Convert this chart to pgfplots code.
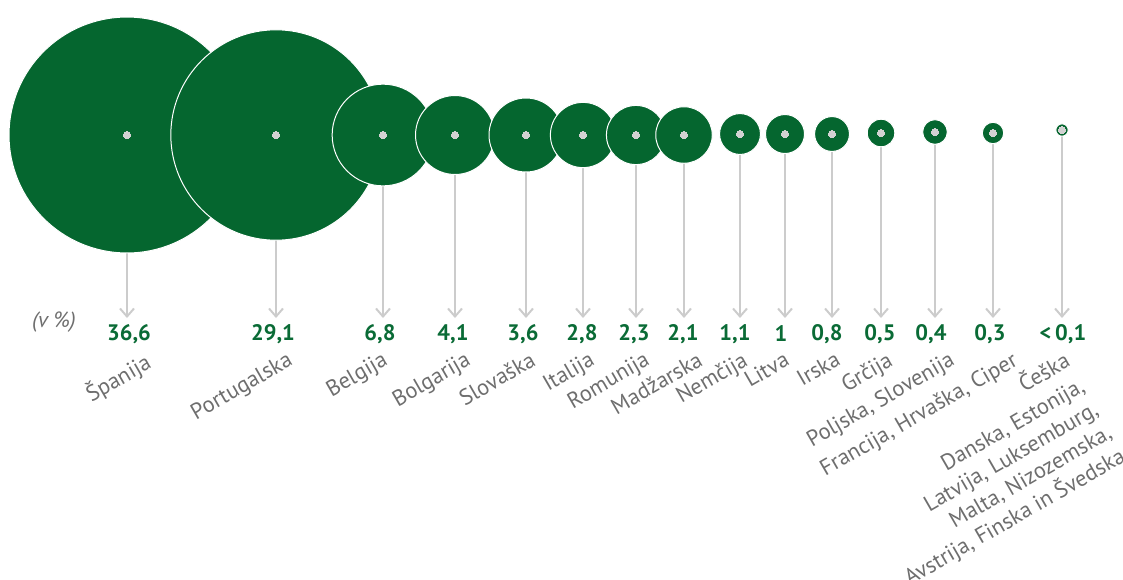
\documentclass[border=0pt]{standalone}
\usepackage{pgfplots}
\pgfplotsset{compat=1.18}
\usepackage{pgfplotstable}
\usepackage{fontspec}
\setmainfont{PT Sans}
\usetikzlibrary{arrows.meta}
\definecolor{bubble}{HTML}{05662F}
\definecolor{valgreen}{HTML}{0A6B36}
\definecolor{labgray}{HTML}{6E6E6E}
\definecolor{linegray}{HTML}{CCCCCC}
\definecolor{dotgray}{HTML}{D2D2D2}
\pgfplotstableread{
x y v dv
127 135 36.6 183
276 135 29.1 183
383 135 6.8 183
455 135 4.1 183
526 135 3.6 183
583 135 2.8 183
636 135 2.3 183
684 135 2.1 183
740 134 1.1 184
785 134 1.0 184
832 134 0.8 184
881 133 0.5 185
935 132 0.4 186
993 133 0.3 185
1062 130 0.1 188
}\bubbles
\newcommand{\lastlabel}{Češka\\[1pt]Danska, Estonija,\\Latvija, Luksemburg,\\Malta, Nizozemska,\\Avstrija, Finska in Švedska}
\begin{document}
\begin{tikzpicture}
\begin{axis}[
  width=561.5pt, height=289.5pt, scale only axis,
  hide axis, clip=false,
  xmin=0, xmax=1123, ymin=0, ymax=579, y dir=reverse,
]
% bubbles
\addplot[scatter, only marks, mark=*,
  visualization depends on={\thisrow{v} \as \val},
  scatter/@pre marker code/.code={%
    \pgfmathsetmacro\rr{9.75*sqrt(\val)}%
    \scope[mark size=\rr pt, fill=bubble, draw=white, line width=0.5pt]},
  scatter/@post marker code/.code={\endscope}]
  table[x=x, y=y] {\bubbles};
% connector arrows
\addplot[mark=none, draw=linegray, line width=1pt,
  quiver={u=0, v=\thisrow{dv}},
  -{Straight Barb[length=4pt, width=7pt, line width=1pt]}]
  table[x=x, y=y] {\bubbles};
% centre dots
\addplot[color=dotgray, only marks, mark=*, mark size=1.8pt,
  mark options={fill=dotgray, draw=dotgray, line width=0pt}]
  table[x=x, y=y] {\bubbles};
% value labels
\addplot[only marks, mark=none, nodes near coords, point meta=explicit symbolic,
  nodes near coords style={font=\fontsize{11.2}{13}\selectfont\bfseries, text=valgreen, anchor=center, inner sep=0pt}]
  coordinates {
  (129,334) [36,6] (273,334) [29,1] (380,334) [6,8] (453,334) [4,1]
  (523,334) [3,6] (582,334) [2,8] (634,334) [2,3] (683,334) [2,1]
  (735,334) [1,1] (781,334) [1] (827,334) [0,8] (880,334) [0,5]
  (931,334) [0,4] (990,334) [0,3] (1063,334) [<\,0,1]
  };
% category labels
\addplot[only marks, mark=none, nodes near coords, point meta=explicit symbolic,
  nodes near coords style={font=\fontsize{11.2}{13.5}\selectfont, text=labgray, rotate=30, anchor=north east, inner sep=0pt, align=right}]
  coordinates {
  (143,350) [Španija] (286,350) [Portugalska] (381,350) [Belgija]
  (464,350) [Bolgarija] (529,350) [Slovaška] (588,350) [Italija]
  (643,350) [Romunija] (696,350) [Madžarska] (741,350) [Nemčija]
  (783,350) [Litva] (834,350) [Irska] (886,350) [Grčija]
  (948,350) [Poljska, Slovenija] (1011,350) [Francija, Hrvaška, Ciper]
  (1062,348) [\lastlabel]
  };
\node[font=\fontsize{11}{12}\selectfont\itshape, text=labgray] at (axis cs:54,322) {(v \%)};
\end{axis}
\pgfresetboundingbox
\path[use as bounding box] (current axis.south west) rectangle (current axis.north east);
\end{tikzpicture}
\end{document}
